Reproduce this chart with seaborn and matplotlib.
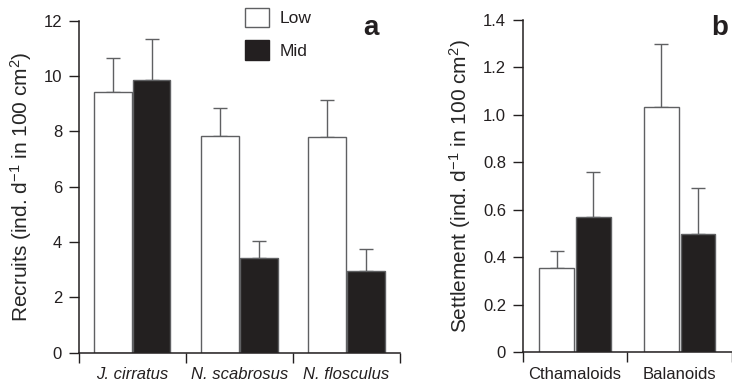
import matplotlib
matplotlib.use("Agg")
import matplotlib.pyplot as plt
from matplotlib.patches import Patch
import seaborn as sns
import pandas as pd

# ---- data ----
species = ["J. cirratus", "N. scabrosus", "N. flosculus"]
recruits_low = [9.42, 7.84, 7.80]
recruits_low_se = [1.23, 0.99, 1.34]
recruits_mid = [9.84, 3.42, 2.94]
recruits_mid_se = [1.49, 0.63, 0.82]

barnacles = ["Cthamaloids", "Balanoids"]
settle_low = [0.354, 1.035]
settle_low_se = [0.071, 0.265]
settle_mid = [0.570, 0.497]
settle_mid_se = [0.189, 0.195]

levels = ["Low", "Mid"]
yticks_a = [0, 2, 4, 6, 8, 10, 12]
yticks_b = [0, 0.2, 0.4, 0.6, 0.8, 1.0, 1.2, 1.4]

BLACK = "#231f20"
GREY = "#5f6062"

sns.set_style("ticks")
plt.rcParams["font.family"] = ["Liberation Sans", "DejaVu Sans"]
plt.rcParams["mathtext.fontset"] = "custom"
plt.rcParams["mathtext.rm"] = "Liberation Sans"
plt.rcParams["mathtext.it"] = "Liberation Sans:italic"
plt.rcParams["axes.edgecolor"] = BLACK
plt.rcParams["axes.linewidth"] = 1.1
plt.rcParams["xtick.color"] = BLACK
plt.rcParams["ytick.color"] = BLACK
plt.rcParams["text.color"] = BLACK

W, H = 732, 388
fig = plt.figure(figsize=(W / 100, H / 100), dpi=100)
axA = fig.add_axes([78.7 / W, (H - 352.7) / H, (400 - 78.7) / W, 332 / H])
axB = fig.add_axes([522.7 / W, (H - 352.3) / H, (W - 522.7) / W, 332.3 / H])


def make_df(cats, low, mid):
    return pd.DataFrame({
        "cat": cats * 2,
        "level": ["Low"] * len(cats) + ["Mid"] * len(cats),
        "value": list(low) + list(mid),
    })


def panel(ax, cats, low, low_se, mid, mid_se, width, gap, yticks, ylim, ylabel, xlim, italic):
    df = make_df(cats, low, mid)
    sns.barplot(data=df, x="cat", y="value", hue="level", hue_order=levels,
                palette={"Low": "white", "Mid": BLACK}, edgecolor=GREY,
                linewidth=1.0, width=width, gap=gap, errorbar=None,
                legend=False, ax=ax, zorder=2)
    for cont, ses in zip(ax.containers, [low_se, mid_se]):
        for bar, se in zip(cont, ses):
            x = bar.get_x() + bar.get_width() / 2
            top = bar.get_height()
            ax.errorbar(x, top, yerr=[[0], [se]], fmt="none", ecolor=GREY,
                        elinewidth=1.0, capsize=5, capthick=1.0, zorder=1)
    ax.set_xlim(*xlim)
    ax.set_ylim(*ylim)
    ax.set_yticks(yticks)
    if ylim[1] < 2:
        ax.set_yticklabels([("0" if v == 0 else f"{v:.1f}") for v in yticks])
    ax.set_xticks(range(len(cats)))
    ax.set_xticklabels(cats, style="italic" if italic else "normal")
    ax.set_xticks([i - 0.5 for i in range(len(cats) + 1)], minor=True)
    ax.tick_params(axis="x", which="major", length=0, pad=10.5, labelsize=12)
    ax.tick_params(axis="x", which="minor", length=7.5, width=1.0, direction="out")
    ax.tick_params(axis="y", length=7.5, width=1.0, pad=4.5, labelsize=12)
    ax.set_xlabel("")
    ax.set_ylabel(ylabel, fontsize=15, labelpad=7)
    sns.despine(ax=ax)


panel(axA, species, recruits_low, recruits_low_se, recruits_mid, recruits_mid_se,
      0.72, 0.02, yticks_a, (0, 12), r"Recruits (ind. d$^{-1}$ in 100 cm$^{2}$)",
      (-0.5, 2.5), True)
panel(axB, barnacles, settle_low, settle_low_se, settle_mid, settle_mid_se,
      0.70, 0.06, yticks_b, (0, 1.4), r"Settlement (ind. d$^{-1}$ in 100 cm$^{2}$)",
      (-0.5, -0.5 + (W - 522.7) / 109.0), False)

handles = [Patch(facecolor="white", edgecolor=GREY, linewidth=1.0),
           Patch(facecolor=BLACK, edgecolor=BLACK, linewidth=1.0)]
fig.legend(handles, levels, loc="upper left", bbox_to_anchor=(245 / W, 1 - 7.7 / H),
           bbox_transform=fig.transFigure, frameon=False, fontsize=12.5,
           handlelength=1.38, handleheight=1.32, labelspacing=0.78,
           handletextpad=0.61, borderpad=0, borderaxespad=0)

fig.text(363 / W, 1 - 35 / H, "a", fontsize=20, fontweight="bold", ha="left", va="baseline")
fig.text(711.5 / W, 1 - 35 / H, "b", fontsize=20, fontweight="bold", ha="left", va="baseline")

fig.savefig("out.png", dpi=100)
